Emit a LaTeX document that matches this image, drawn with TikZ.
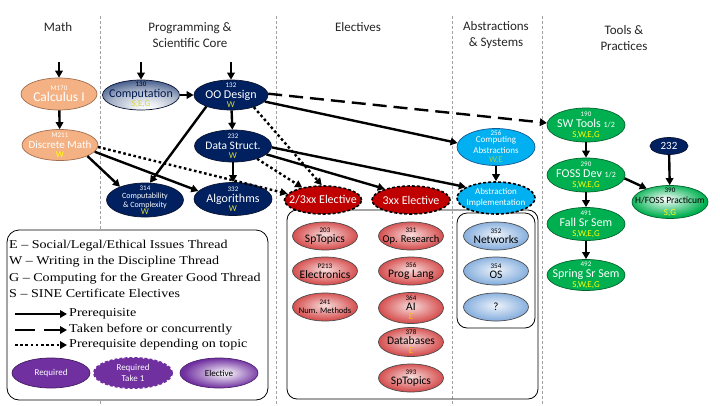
\documentclass[tikz,border=0pt]{standalone}
\usepackage{fontspec}
\setmainfont{Carlito}
\newfontfamily\legfont[FakeStretch=1.17]{Liberation Serif}
\usetikzlibrary{shapes.geometric,arrows.meta}
\definecolor{navy}{RGB}{0,32,96}
\definecolor{navyb}{RGB}{10,20,50}
\definecolor{salmon}{RGB}{244,177,131}
\definecolor{salmonb}{RGB}{160,110,80}
\definecolor{grn}{RGB}{0,176,80}
\definecolor{grnb}{RGB}{0,100,45}
\definecolor{dred}{RGB}{192,0,0}
\definecolor{lblue}{RGB}{0,176,240}
\definecolor{lblueb}{RGB}{20,90,150}
\definecolor{purp}{RGB}{112,48,160}
\definecolor{ered}{RGB}{214,78,78}
\definecolor{eblue}{RGB}{135,175,222}
\definecolor{thy}{RGB}{255,255,0}
\definecolor{thyn}{RGB}{215,215,60}
\definecolor{thg}{RGB}{146,208,80}
\definecolor{tho}{RGB}{255,192,0}
\definecolor{gridc}{RGB}{160,160,160}
\pgfdeclareradialshading{shred}{\pgfpoint{0bp}{3bp}}{color(0bp)=(white!80!ered);color(25bp)=(ered);color(50bp)=(ered)}
\pgfdeclareradialshading{shblue}{\pgfpoint{0bp}{3bp}}{color(0bp)=(white!85!eblue);color(25bp)=(eblue);color(50bp)=(eblue)}
\pgfdeclareradialshading{shnavy}{\pgfpoint{4bp}{-24bp}}{color(0bp)=(white);color(8bp)=(white!92!navy);color(22bp)=(white!65!navy);color(34bp)=(white!25!navy);color(42bp)=(navy);color(50bp)=(navy)}
\pgfdeclareradialshading{shgreen}{\pgfpoint{-3bp}{5bp}}{color(0bp)=(white);color(25bp)=(grn);color(50bp)=(grn)}
\pgfdeclareradialshading{shpurp}{\pgfpoint{4bp}{0bp}}{color(0bp)=(white);color(25bp)=(purp);color(50bp)=(purp)}
\newcommand\fs[2]{\fontsize{#1}{#2}\selectfont}
\newcommand\nm[1]{{\fs{7}{7}#1}}
\newcommand\thd[2][thy]{{\fs{9}{9}\color{#1}#2}}
\begin{document}
\begin{tikzpicture}[x=1pt,y=-1pt,
  crs/.style={ellipse, inner sep=-25pt, align=center, line width=0.7pt, font=\fs{12}{11}},
  sal/.style={crs, draw=salmonb, fill=salmon, text=white},
  nav/.style={crs, draw=navyb, fill=navy, text=white},
  gr/.style={crs, draw=grnb, fill=grn, text=white, minimum width=78pt},
  reqx/.style={crs, draw=black, fill=dred, text=white, line width=1.6pt, dash pattern=on 3pt off 2pt},
  abs/.style={crs, draw=lblueb, fill=lblue, text=white},
  absx/.style={crs, draw=black, fill=lblue, text=white, line width=1.6pt, dash pattern=on 3pt off 2pt},
  elr/.style={crs, draw=black!70, shade, shading=shred, text=black, minimum width=65pt, minimum height=28pt},
  elb/.style={crs, draw=black!70, shade, shading=shblue, text=black, minimum width=65pt, minimum height=28pt},
  pre/.style={-{Triangle[length=7pt,width=7.5pt]}, line width=2.4pt},
  conc/.style={pre, dash pattern=on 14pt off 7pt},
  topic/.style={pre, dash pattern=on 2.6pt off 2.6pt},
  hdr/.style={align=center, font=\fs{13}{16}, text=black!85},
  leg/.style={anchor=base west, inner sep=0pt, font=\legfont\fs{12}{14}},
  grid/.style={draw=gridc, line width=0.6pt, dash pattern=on 3pt off 2pt}]
\useasboundingbox (0,0) rectangle (720,405);
\fill[white] (0,0) rectangle (720,405);
% column separators
\draw[grid] (100,16) -- (100,405);
\draw[grid] (276,16) -- (276,405);
\draw[grid] (452,16) -- (452,405);
\draw[grid] (542,16) -- (542,405);
% headers
\node[hdr] (hmath) at (58,27) {Math};
\node[hdr] (hcore) at (190,35) {Programming \&\\Scientific Core};
\node[hdr] (helec) at (358,27) {Electives};
\node[hdr] (habs) at (496,35) {Abstractions\\\& Systems};
\node[hdr] (htools) at (624,38) {Tools \&\\Practices};
% boxes
\draw[rounded corners=10pt, line width=0.8pt] (287,210) rectangle (538,399);
\draw[rounded corners=10pt, line width=0.8pt] (457,213) rectangle (535,328);
\draw[rounded corners=12pt, line width=0.8pt, fill=white] (7,230) rectangle (268,400);
% math
\node[sal, minimum width=76pt, minimum height=32pt] (calc) at (59,94) {\nm{M170}\\{\fs{13.5}{12}Calculus I}};
\node[sal, minimum width=76pt, minimum height=31pt] (dm) at (60,145) {\nm{M211}\\{\fs{11}{10}Discrete Math}\\[-2pt]\thd{W}};
% core
\node[crs, draw=navyb, shade, shading=shnavy, text=navy!80!black, minimum width=77pt, minimum height=30pt] (comp) at (141,95) {{\color{black}\nm{130}}\\Computation\\[-2pt]\thd[thyn]{S,E,G}};
\node[nav, minimum width=74pt, minimum height=30pt] (oo) at (231,95) {\nm{132}\\OO Design\\[-2pt]\thd[thyn]{W}};
\node[nav, minimum width=77pt, minimum height=32pt] (ds) at (233,146) {\nm{232}\\{\fs{11.5}{11}Data Struct.}\\[-2pt]\thd[thyn]{W}};
\node[nav, minimum width=78pt, minimum height=33pt] (algo) at (233,199) {\nm{332}\\Algorithms\\[-2pt]\thd[thyn]{W}};
\node[nav, minimum width=77pt, minimum height=34pt, font=\fs{8}{8.5}] (cc) at (145,200) {\nm{314}\\Computability\\ \&~Complexity\\[-1pt]\thd[thyn]{W}};
% electives
\node[reqx, minimum width=77pt, minimum height=28pt] (x23) at (323,200) {2/3xx Elective};
\node[reqx, minimum width=78pt, minimum height=28pt] (x3) at (411,200) {3xx Elective};
\node[elr] (e203) at (325,236) {\nm{203}\\[-1pt]{\fs{11.5}{11}SpTopics}};
\node[elr] (p213) at (325,271) {\nm{P213}\\[-1pt]{\fs{11.5}{11}Electronics}};
\node[elr] (n241) at (325,307) {\nm{241}\\[-2pt]{\fs{8.5}{9}Num. Methods}};
\node[elr] (e331) at (411,236) {\nm{331}\\[-1pt]{\fs{10.5}{11}Op. Research}};
\node[elr] (e356) at (411,271) {\nm{356}\\[-1pt]{\fs{11.5}{11}Prog Lang}};
\node[elr, minimum height=31pt] (e364) at (411,308) {\nm{364}\\[-1pt]{\fs{11.5}{11}AI}\\[-2pt]\thd[tho]{E}};
\node[elr, minimum height=29pt] (e378) at (411,342) {\nm{378}\\[-1pt]{\fs{11.5}{11}Databases}\\[-2pt]\thd[tho]{E}};
\node[elr] (e393) at (411,378) {\nm{393}\\[-1pt]{\fs{11.5}{11}SpTopics}};
% abstractions
\node[abs, minimum width=78pt, minimum height=37pt, font=\fs{9}{10}] (ca) at (496,147) {\nm{256}\\[-2.5pt]Computing\\[1pt]Abstractions\\[-1.5pt]\thd[thg]{W,E}};
\node[absx, minimum width=78pt, minimum height=32pt, font=\fs{9}{11}] (ai) at (496,198) {Abstraction\\Implementation};
\node[elb] (e352) at (496,236) {\nm{352}\\[-1pt]{\fs{11.5}{11}Networks}};
\node[elb] (e354) at (496,271) {\nm{354}\\[-1pt]{\fs{11.5}{11}OS}};
\node[elb] (eq) at (496,307) {{\fs{11}{11}?}};
% tools
\node[gr, minimum height=34pt] (sw) at (586,125) {\nm{190}\\SW Tools {\fs{8}{8}1/2}\\[-1pt]\thd{S,W,E,G}};
\node[gr, minimum height=34pt] (foss) at (586,175) {\nm{290}\\FOSS Dev {\fs{8}{8}1/2}\\[-1pt]\thd{S,W,E,G}};
\node[gr, minimum height=33pt] (fall) at (586,224) {\nm{491}\\Fall Sr Sem\\[-1pt]\thd{S,W,E,G}};
\node[gr, minimum height=31pt] (spring) at (586,275) {\nm{492}\\Spring Sr Sem\\[-1pt]\thd{S,W,E,G}};
\node[nav, minimum width=38pt, minimum height=17pt, font=\fs{11}{11}] (n232) at (669,146) {232};
\node[crs, draw=grnb, shade, shading=shgreen, text=black, minimum width=76pt, minimum height=33pt] (hf) at (670,202) {\nm{390}\\{\fs{9.5}{10}H/FOSS Practicum}\\[1pt]\thd{S,G}};
% free ends of entry arrows
\coordinate (tcalc) at (59,62);
\coordinate (tcomp) at (141,62);
\coordinate (too) at (231,62);
% connectors
\draw[pre] (tcalc) -- (calc);
\draw[pre] (tcomp) -- (comp);
\draw[pre] (too) -- (oo);
\draw[pre] (calc) -- (dm);
\draw[pre] (comp) -- (oo);
\draw[pre] (oo) -- (ds);
\draw[pre] (ds) -- (algo);
\draw[pre] (dm.-22) -- (cc.152);
\draw[pre] (dm.-11) -- (algo.167);
\draw[pre] (oo.205) -- (cc.74);
\draw[pre] (oo.-11) -- (ca.174);
\draw[pre] (ds.-14) -- (x3.157);
\draw[pre] (ds.-2) -- (ai.160);
\draw[topic] (dm.-3) -- (x23.170);
\draw[topic] (oo.-28) -- (x23.95);
\draw[topic] (ds.-28) -- (x23.149);
\draw[conc] (oo.2) -- (sw.177);
\draw[pre] (ca) -- (ai);
\draw[pre] (sw) -- (foss);
\draw[pre] (foss) -- (fall);
\draw[pre] (fall) -- (spring);
\draw[pre] (foss.-5) -- (hf.150);
\draw[pre] (n232) -- (hf);
% legend
\node[leg] (lgE) at (9,248) {E – Social/Legal/Ethical Issues Thread};
\node[leg] (lgW) at (9,264) {W – Writing in the Discipline Thread};
\node[leg] (lgG) at (9,281) {G – Computing for the Greater Good Thread};
\node[leg] (lgS) at (9,297.5) {S – SINE Certificate Electives};
\coordinate (la1) at (15,314); \coordinate (la2) at (67,314);
\coordinate (lb1) at (15,330); \coordinate (lb2) at (67,330);
\coordinate (lc1) at (15,345); \coordinate (lc2) at (67,345);
\draw[pre] (la1) -- (la2);
\draw[pre, dash pattern=on 20pt off 9pt] (lb1) -- (lb2);
\draw[topic] (lc1) -- (lc2);
\node[leg] (lgP) at (69,316.5) {Prerequisite};
\node[leg] (lgT) at (69,332) {Taken before or concurrently};
\node[leg] (lgD) at (69,347.5) {Prerequisite depending on topic};
\node[crs, draw=purp!60!black, fill=purp, text=white, minimum width=78pt, minimum height=30pt, font=\fs{9}{10}] (lreq) at (51,373) {Required};
\node[crs, draw=purp, fill=purp, text=white, line width=2pt, dash pattern=on 3pt off 2pt, minimum width=78pt, minimum height=30pt, font=\fs{9}{11}] (lreqt) at (133,373) {Required\\Take 1};
\node[crs, draw=purp!70!black, shade, shading=shpurp, text=black, minimum width=78pt, minimum height=30pt, font=\fs{9}{10}] (lelec) at (219,373) {Elective};
\end{tikzpicture}
\end{document}
